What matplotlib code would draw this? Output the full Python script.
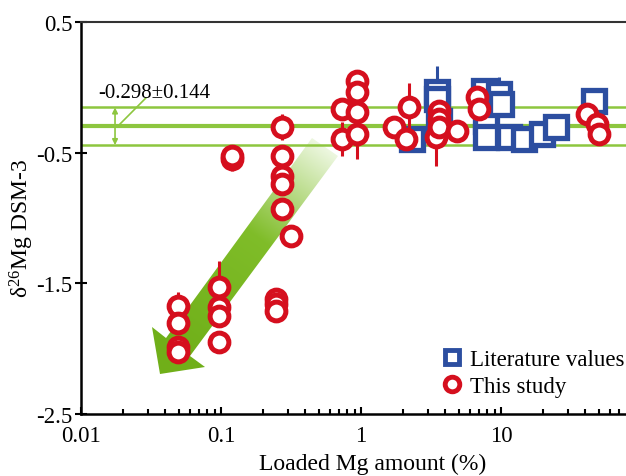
import numpy as np
import matplotlib
matplotlib.use('Agg')
import matplotlib.pyplot as plt
from matplotlib.patches import Polygon
from matplotlib.lines import Line2D

plt.rcParams['font.family'] = ['Liberation Serif', 'DejaVu Serif']
plt.rcParams['mathtext.fontset'] = 'custom'
plt.rcParams['mathtext.rm'] = 'Liberation Serif'
plt.rcParams['mathtext.default'] = 'regular'

# This study (red circles)
study_x = [0.049, 0.049, 0.049, 0.049,
           0.097, 0.097, 0.097, 0.097,
           0.12, 0.12,
           0.247, 0.247, 0.247,
           0.273, 0.273, 0.273, 0.273, 0.273,
           0.316,
           0.73, 0.73,
           0.935, 0.935, 0.935, 0.935,
           1.72, 2.1, 2.2,
           3.43, 3.6, 3.6, 3.6,
           4.85, 6.74, 6.97,
           41.1, 48.5, 50.1]
study_y = [-1.673, -1.803, -1.987, -2.025,
           -1.528, -1.681, -1.749, -1.948,
           -0.548, -0.525,
           -1.619, -1.658, -1.711,
           -0.303, -0.525, -0.678, -0.74, -0.93,
           -1.137,
           -0.166, -0.395,
           0.049, -0.036, -0.189, -0.357,
           -0.303, -0.395, -0.15,
           -0.38, -0.18, -0.24, -0.30,
           -0.334, -0.074, -0.166,
           -0.204, -0.28, -0.357]
study_err = [0.11, 0.05, 0.05, 0.05,
             0.2, 0.05, 0.05, 0.05,
             0.09, 0.05,
             0.05, 0.05, 0.05,
             0.1, 0.05, 0.05, 0.05, 0.05,
             0.05,
             0.05, 0.13,
             0.08, 0.05, 0.05, 0.19,
             0.05, 0.05, 0.18,
             0.22, 0.05, 0.05, 0.05,
             0.05, 0.05, 0.05,
             0.05, 0.05, 0.05]

# Literature values (blue squares)
lit_x = [2.31, 3.49, 3.49, 3.6, 7.56, 7.8, 7.8, 9.68, 10.0, 11.4, 14.6, 19.6, 24.7, 46.2]
lit_y = [-0.395, -0.036, -0.089, -0.257, -0.028, -0.257, -0.38, -0.051, -0.127,
         -0.38, -0.395, -0.357, -0.303, -0.104]
lit_err = [0.05, 0.2, 0.05, 0.05, 0.09, 0.05, 0.05, 0.13, 0.05, 0.05, 0.05, 0.05, 0.05, 0.05]

std_mean = -0.298
std_sd = 0.144

red = '#d50f1e'
blue = '#2c4ea0'
green = '#8dc63f'

fig = plt.figure(figsize=(6.26, 4.77), dpi=100)
ax = fig.add_axes([81/626, 1-415/477, 545/626, 392/477])
ax.set_xscale('log')
ax.autoscale(False)
ax.set_xlim(0.01, 10**(-2 + 545/140))
ax.set_ylim(-2.5, 0.5)

# standard lines
for yy, lw in [(std_mean + std_sd, 1.8), (std_mean, 3.0), (std_mean - std_sd, 1.8)]:
    ax.axhline(yy, color=green, lw=lw, zorder=1.5)

# big gradient arrow (axes fraction coords)
def px(xp, yp):
    return ((xp - 81) / 545, (415 - yp) / 392)

verts = [px(312, 139), px(338, 157), px(190, 357), px(205, 368),
         px(160, 375), px(152, 328), px(166, 339)]
poly = Polygon(verts, closed=True, transform=ax.transAxes, facecolor='none',
               edgecolor='none')
ax.add_patch(poly)
n = 200
dir_v = np.array([-0.593, -0.806])
gx, gy = np.meshgrid(np.linspace(0, 1, n), np.linspace(0, 1, n))
p0 = np.array(px(325, 148))
proj = ((gx - p0[0]) * 545 * dir_v[0] + (gy - p0[1]) * 392 * dir_v[1]) / 250
proj = np.clip(proj, 0, 1)
light = np.array([0.93, 0.97, 0.88])
mid = np.array([0.50, 0.74, 0.16])
dark = np.array([0.44, 0.69, 0.10])
w = np.clip(proj / 0.45, 0, 1)[..., None]
col = light * (1 - w) + mid * w
w2 = np.clip((proj - 0.45) / 0.55, 0, 1)[..., None]
col = col * (1 - w2) + dark * w2
im = ax.imshow(col, extent=[0, 1, 0, 1], origin='lower', transform=ax.transAxes,
               aspect='auto', zorder=1, interpolation='bilinear')
im.set_clip_path(poly)

ax.errorbar(lit_x, lit_y, yerr=lit_err, fmt='s', ms=16, mfc='white', mec=blue,
            mew=3.8, ecolor=blue, elinewidth=2.2, capsize=0, zorder=3)
ax.errorbar(study_x, study_y, yerr=study_err, fmt='o', ms=13.5, mfc='white', mec=red,
            mew=3.6, ecolor=red, elinewidth=2.2, capsize=0, zorder=4)

# annotation for standard
ax.annotate('', xy=(0.0175, std_mean + std_sd), xytext=(0.0175, std_mean - std_sd),
            arrowprops=dict(arrowstyle='<|-|>', color=green, lw=1.2,
                            mutation_scale=8, shrinkA=0, shrinkB=0), zorder=2)
ax.plot([0.0187, 0.0291], [-0.288, -0.081], color=green, lw=1.2, zorder=2)
ax.text(0.0132, -0.04, '-0.298±0.144', fontsize=15, va='center', ha='left')

ax.set_yticks([0.5, -0.5, -1.5, -2.5])
ax.set_yticklabels(['0.5', '-0.5', '-1.5', '-2.5'])
ax.set_xticks([0.01, 0.1, 1, 10])
ax.set_xticklabels(['0.01', '0.1', '1', '10'])
ax.tick_params(axis='x', which='major', direction='in', length=5, width=1.5,
               labelsize=16.5, pad=8)
ax.tick_params(axis='x', which='minor', direction='in', length=3.5, width=1.5)
ax.tick_params(axis='y', which='major', direction='inout', length=8, width=1.5,
               labelsize=16.5, pad=2)

for s in ['left', 'bottom']:
    ax.spines[s].set_linewidth(1.8)
ax.spines['top'].set_linewidth(1.5)
ax.spines['top'].set_color('#333333')
ax.spines['right'].set_visible(False)

ax.set_xlabel('Loaded Mg amount (%)', fontsize=17)
ax.xaxis.set_label_coords((373 - 81) / 545, (415 - 464) / 392)
ax.xaxis.label.set_va('center')
ax.set_ylabel('δ$^{26}$Mg DSM-3', fontsize=17)
ax.yaxis.set_label_coords((22 - 81) / 545, (415 - 228) / 392)
ax.yaxis.label.set_va('center')

handles = [Line2D([], [], ls='none', marker='s', ms=10, mfc='white', mec=blue, mew=3.5),
           Line2D([], [], ls='none', marker='o', ms=10.5, mfc='white', mec=red, mew=3.5)]
ax.legend(handles, ['Literature values', 'This study'], loc='lower right',
          bbox_to_anchor=px(624, 398), frameon=False, fontsize=16.5,
          handletextpad=0.3, labelspacing=0.25, handlelength=0.9,
          borderpad=0, borderaxespad=0)

fig.savefig('out.png', dpi=100, facecolor='white')
